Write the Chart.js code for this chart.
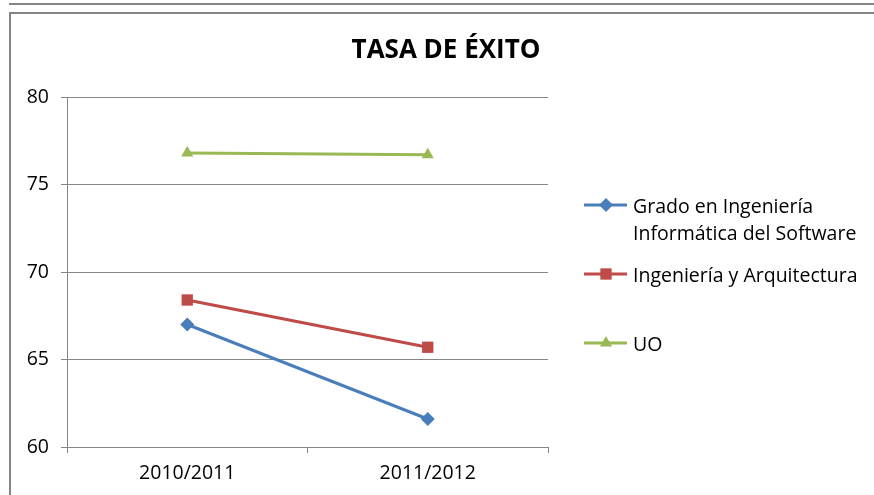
<!DOCTYPE html>
<html>
<head>
<meta charset="utf-8">
<script src="https://cdn.jsdelivr.net/npm/chart.js@4/dist/chart.umd.min.js"></script>
<style>
    body { margin: 0; background: #fff; }
    #wrap { position: relative; width: 874px; height: 495px; overflow: hidden; }
    #topLine { position: absolute; left: 9px; top: 3px; width: 865px; height: 2px; background: #868686; }
    #frame { position: absolute; left: 9px; top: 12px; width: 880px; height: 500px; border: 2px solid #868686; box-sizing: border-box; }
    canvas { position: absolute; left: 0; top: 0; }
</style>
</head>
<body>
<div id="wrap">
    <div id="topLine"></div>
    <div id="frame"></div>
    <canvas id="chart" width="874" height="495"></canvas>
</div>
<script>
    const title = 'TASA DE ÉXITO';
    const years = ['2010/2011', '2011/2012'];
    const yTicks = [60, 65, 70, 75, 80];

    const software = [67.0, 61.6];
    const ingenieria = [68.4, 65.7];
    const uo = [76.8, 76.7];

    const seriesNames = [['Grado en Ingeniería', 'Informática del Software'], ['Ingeniería y Arquitectura'], ['UO']];

    const fontFamily = '"Open Sans", Lato, sans-serif';
    const gridColor = '#868686';

    // title + legend drawn by hand so they land where the original has them
    const extras = {
        id: 'extras',
        afterDraw(c) {
            const ctx = c.ctx;
            ctx.save();
            ctx.fillStyle = '#000';
            ctx.font = 'bold 26px ' + fontFamily;
            ctx.textAlign = 'center';
            ctx.textBaseline = 'middle';
            ctx.fillText(title, 446, 51);

            const rows = [205, 274, 343];
            ctx.font = '19.5px ' + fontFamily;
            ctx.textAlign = 'left';
            c.data.datasets.forEach((ds, i) => {
                const y = rows[i];
                ctx.strokeStyle = ds.borderColor;
                ctx.lineWidth = 3;
                ctx.beginPath();
                ctx.moveTo(584, y);
                ctx.lineTo(627, y);
                ctx.stroke();
                ctx.fillStyle = ds.borderColor;
                Chart.helpers.drawPoint(ctx, {
                    pointStyle: ds.pointStyle,
                    radius: ds.pointRadius,
                    borderWidth: 0
                }, 606, y);
                ctx.fillStyle = '#000';
                seriesNames[i].forEach((line, j) => {
                    ctx.fillText(line, 633, y + 2 + j * 27);
                });
            });
            ctx.restore();
        }
    };

    new Chart(document.getElementById('chart'), {
        type: 'line',
        data: {
            labels: years,
            datasets: [{
                label: seriesNames[0].join(' '),
                data: software,
                borderColor: '#4A7EBB',
                backgroundColor: '#4A7EBB',
                borderWidth: 3,
                pointStyle: 'rectRot',
                pointRadius: 7,
                pointBorderWidth: 0
            }, {
                label: seriesNames[1].join(' '),
                data: ingenieria,
                borderColor: '#BE4B48',
                backgroundColor: '#BE4B48',
                borderWidth: 3,
                pointStyle: 'rect',
                pointRadius: 8,
                pointBorderWidth: 0
            }, {
                label: seriesNames[2].join(' '),
                data: uo,
                borderColor: '#98B954',
                backgroundColor: '#98B954',
                borderWidth: 3,
                pointStyle: 'triangle',
                pointRadius: 7,
                pointBorderWidth: 0
            }]
        },
        options: {
            responsive: false,
            animation: false,
            layout: { padding: { left: 27, top: 97, right: 326, bottom: 0 } },
            plugins: {
                legend: { display: false },
                title: { display: false },
                tooltip: { enabled: false }
            },
            scales: {
                x: {
                    offset: true,
                    afterFit(s) { s.height = 48; },
                    grid: { offset: true, drawOnChartArea: false, drawTicks: true, tickLength: 6, color: gridColor },
                    border: { color: gridColor },
                    ticks: { color: '#000', font: { family: fontFamily, size: 19.5 }, padding: 9 }
                },
                y: {
                    min: 60,
                    max: 80,
                    afterFit(s) { s.width = 40; },
                    afterBuildTicks(s) { s.ticks = yTicks.map(v => ({ value: v })); },
                    grid: { color: gridColor, tickLength: 6 },
                    border: { color: gridColor },
                    ticks: { color: '#000', font: { family: fontFamily, size: 19.5 }, padding: 12 }
                }
            }
        },
        plugins: [extras]
    });
</script>
</body>
</html>
